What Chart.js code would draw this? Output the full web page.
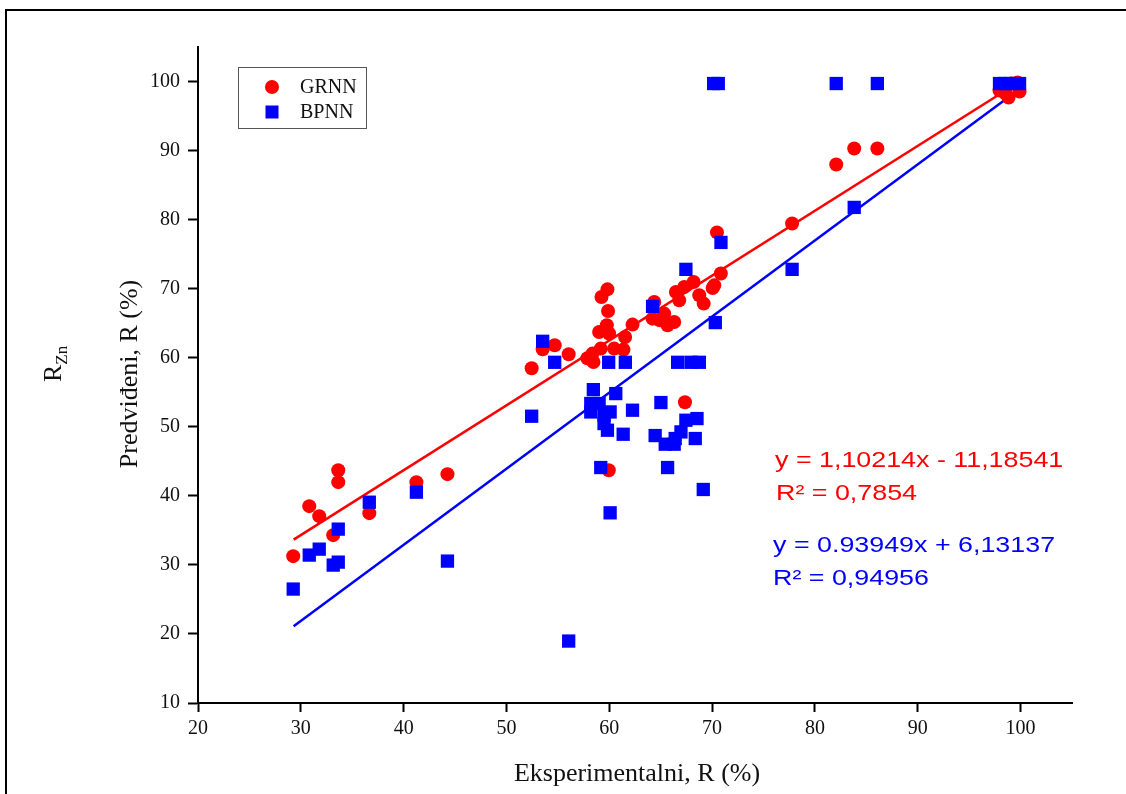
<!DOCTYPE html>
<html><head><meta charset="utf-8">
<script src="https://cdn.jsdelivr.net/npm/chart.js@4"></script>
<style>html,body{margin:0;padding:0;background:#fff}#wrap{width:1126px;height:794px}</style>
</head><body><div id="wrap"><canvas id="c" width="1126" height="794"></canvas></div>
<script>
// ---- data ----
const seriesNames = ['GRNN', 'BPNN'];
const grnnX = [29.26,30.82,31.79,33.15,33.64,33.64,36.66,41.24,44.26,52.45,53.52,54.69,56.05,57.87,58.36,58.46,59.17,60.47,61.38,59.01,59.98,61.54,59.76,62.26,59.88,59.24,59.82,64.21,64.92,64.37,65.34,65.67,66.31,66.80,66.48,67.29,68.20,68.75,69.18,70.21,70.85,70.47,77.78,82.07,83.82,86.07,67.36,59.95,97.95,98.54,98.83,99.12,99.71,99.90,70.05];
const grnnY = [31.27,38.51,37.06,34.31,43.71,41.98,37.49,41.98,43.14,58.47,61.22,61.80,60.50,59.92,60.60,59.39,61.32,61.32,61.18,63.73,63.50,63.00,64.70,64.80,66.76,68.79,69.90,65.66,65.42,68.07,66.39,64.70,65.17,68.31,69.51,70.24,70.96,69.04,67.84,70.48,72.20,78.15,79.45,87.99,90.30,90.30,53.55,43.71,98.70,98.27,97.69,99.71,99.85,98.56,70.10];
const bpnnX = [29.26,30.82,31.79,33.15,33.64,33.64,36.66,41.24,44.26,52.45,53.52,54.69,56.05,58.45,60.63,58.20,59.01,58.20,59.49,60.08,62.26,59.49,59.82,61.35,65.02,64.46,65.44,66.31,66.41,66.97,67.45,68.53,68.36,59.17,65.67,69.14,60.08,59.94,61.56,66.65,67.95,68.76,64.21,70.31,67.45,70.86,77.78,83.82,70.15,70.60,82.07,86.07,97.95,98.50,99.10,99.90];
const bpnnY = [26.50,31.42,32.28,29.97,35.18,30.40,39.08,40.53,30.55,51.53,62.38,59.34,18.97,55.38,54.81,53.37,53.37,52.15,51.67,52.15,52.40,50.47,49.50,48.92,53.51,48.73,47.48,47.48,48.30,49.26,50.95,51.19,48.30,44.10,44.10,40.92,37.54,59.34,59.34,59.34,59.34,59.34,67.44,65.09,72.80,76.70,72.80,81.77,99.71,99.71,99.71,99.71,99.71,99.71,99.71,99.71];
const xTicks = [20,30,40,50,60,70,80,90,100];
const yTicks = [10,20,30,40,50,60,70,80,90,100];
// trend lines as drawn (the red line follows 0.93949x+6.13137, the blue one 1.10214x-11.18541)
const redFit = [0.93949, 6.13137];
const blueFit = [1.10214, -11.18541];
const fitFrom = 29.3, fitTo = 100;
const redEq = ['y = 1,10214x - 11,18541', 'R² = 0,7854'];
const blueEq = ['y = 0.93949x + 6,13137', 'R² = 0,94956'];
const xTitle = 'Eksperimentalni, R (%)';
const yTitle = 'Predviđeni, R (%)';
const yTitle2 = ['R', 'Zn'];

const RED = '#ff0000', BLUE = '#0000ff';
const SERIF = '"Liberation Serif", "Times New Roman", serif';
const SANS = '"Liberation Sans", Arial, sans-serif';

const pts = (xs, ys) => xs.map((x, i) => ({x, y: ys[i]}));
const fitPts = f => [fitFrom, fitTo].map(x => ({x, y: f[0] * x + f[1]}));

const decor = {
  id: 'decor',
  beforeDraw(chart) {
    const c = chart.ctx;
    c.save(); c.fillStyle = '#fff'; c.fillRect(0, 0, chart.width, chart.height); c.restore();
  },
  afterDraw(chart) {
    const c = chart.ctx;
    c.save();
    // outer frame (left and top edges visible)
    c.strokeStyle = '#000'; c.lineWidth = 2;
    c.strokeRect(6, 10, 1130, 800);
    // legend
    c.strokeStyle = '#555'; c.lineWidth = 1;
    c.strokeRect(238.5, 67.5, 128, 61);
    c.fillStyle = RED; c.beginPath(); c.arc(272, 87, 7, 0, Math.PI * 2); c.fill();
    c.fillStyle = BLUE; c.fillRect(265.5, 105.5, 13, 13);
    c.fillStyle = '#111'; c.font = '20px ' + SERIF; c.textAlign = 'left'; c.textBaseline = 'alphabetic';
    c.fillText(seriesNames[0], 300, 93);
    c.fillText(seriesNames[1], 300, 118);
    // x title
    c.font = '26px ' + SERIF; c.textAlign = 'center';
    c.fillText(xTitle, 637, 781);
    // y titles
    c.save(); c.translate(137, 374); c.rotate(-Math.PI / 2);
    c.fillText(yTitle, 0, 0); c.restore();
    c.save(); c.translate(61, 382); c.rotate(-Math.PI / 2);
    c.textAlign = 'left'; c.font = '26px ' + SERIF;
    c.fillText(yTitle2[0], 0, 0);
    const w = c.measureText(yTitle2[0]).width;
    c.font = '17px ' + SERIF; c.fillText(yTitle2[1], w, 6);
    c.restore();
    // equations
    c.font = '22px ' + SANS; c.textAlign = 'left';
    const drawStretched = (t, x, y, col) => {
      c.save(); c.translate(x, y); c.scale(1.22, 1); c.fillStyle = col; c.fillText(t, 0, 0); c.restore();
    };
    drawStretched(redEq[0], 775, 467, RED);
    drawStretched(redEq[1], 776, 500, RED);
    drawStretched(blueEq[0], 773, 552, BLUE);
    drawStretched(blueEq[1], 773, 585, BLUE);
    c.restore();
  }
};

const onlyTicks = list => s => { s.ticks = list.map(v => ({value: v})); };

new Chart(document.getElementById('c'), {
  type: 'scatter',
  data: {
    datasets: [
      {label: seriesNames[1], data: pts(bpnnX, bpnnY), pointStyle: 'rect', pointRadius: 9.4,
       backgroundColor: BLUE, borderColor: BLUE, borderWidth: 0, order: 0},
      {label: seriesNames[0], data: pts(grnnX, grnnY), pointStyle: 'circle', pointRadius: 7,
       backgroundColor: RED, borderColor: RED, borderWidth: 0, order: 1},
      {label: 'fitR', data: fitPts(redFit), showLine: true, pointRadius: 0, borderColor: RED,
       borderWidth: 2.5, order: 2},
      {label: 'fitB', data: fitPts(blueFit), showLine: true, pointRadius: 0, borderColor: BLUE,
       borderWidth: 2.5, order: 3}
    ]
  },
  options: {
    responsive: false, animation: false, devicePixelRatio: 1,
    layout: {padding: {top: 47, right: 54, left: 0, bottom: 0}},
    plugins: {legend: {display: false}, tooltip: {enabled: false}},
    scales: {
      x: {
        type: 'linear', position: 'bottom', min: 20, max: 105,
        afterBuildTicks: onlyTicks(xTicks),
        afterFit: s => { s.height = 91; },
        border: {color: '#000', width: 2},
        grid: {drawOnChartArea: false, drawTicks: true, tickLength: 9, tickWidth: 2, tickColor: '#000'},
        ticks: {color: '#111', font: {family: SERIF, size: 20}, padding: 5, maxRotation: 0, autoSkip: false}
      },
      y: {
        type: 'linear', position: 'left', min: 10, max: 105,
        afterBuildTicks: onlyTicks(yTicks),
        afterFit: s => { s.width = 198; },
        border: {color: '#000', width: 2},
        grid: {drawOnChartArea: false, drawTicks: true, tickLength: 10, tickWidth: 2, tickColor: '#000'},
        ticks: {color: '#111', font: {family: SERIF, size: 20}, padding: 8, autoSkip: false}
      }
    }
  },
  plugins: [decor]
});
</script></body></html>
